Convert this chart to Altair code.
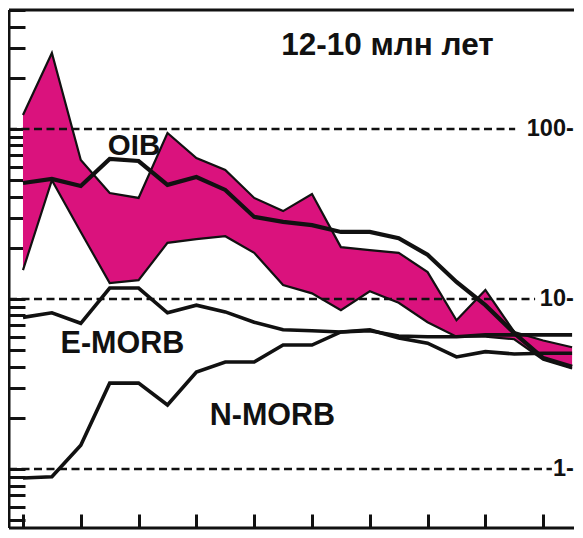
import altair as alt
import pandas as pd

# ---- data (primitive-mantle normalised spider diagram) ----
elements = ["Rb", "Ba", "Th", "Nb", "Ta", "K", "La", "Ce", "Sr", "P",
            "Nd", "Zr", "Hf", "Sm", "Eu", "Ti", "Dy", "Y", "Yb", "Lu"]
band_upper = [121, 280, 65.7, 42, 39.3, 94.7, 67.5, 57.4, 39.3, 32.9,
              41.5, 20.2, 19.4, 18.7, 14.4, 7.5, 11.3, 6.4, 5.7, 5.2]
band_lower = [14.8, 50, 24.8, 12.4, 12.9, 21.4, 22.5, 23.4, 18.7, 12.1,
              10.8, 8.6, 11.1, 9.5, 7.3, 6.0, 6.0, 5.8, 4.4, 3.9]
oib = [48.1, 50.8, 46.2, 66.6, 64.8, 46.9, 52.2, 43.8, 30.4, 28.4,
       27.2, 24.8, 24.8, 22.8, 18.2, 12.6, 9.2, 6.3, 4.5, 4.0]
e_morb = [7.8, 8.3, 7.2, 11.6, 11.6, 8.3, 9.2, 8.4, 7.3, 6.6,
          6.5, 6.4, 6.6, 5.9, 5.5, 4.56, 4.9, 4.75, 4.8, 4.8]
n_morb = [0.885, 0.9, 1.38, 3.2, 3.2, 2.38, 3.72, 4.26, 4.26, 5.36,
          5.36, 6.4, 6.5, 6.06, 6.0, 6.0, 6.15, 6.15, 6.15, 6.15]

y_ticks = [0.5, 0.6, 0.7, 0.8, 0.9,
           1, 2, 3, 4, 5, 6, 7, 8, 9,
           10, 20, 30, 40, 50, 60, 70, 80, 90,
           100, 200, 300, 400, 500]
ref_levels = [1, 10, 100]
ref_labels = ["1-", "10-", "100-"]
title_text = "12-10 млн лет"
series_labels = ["OIB", "E-MORB", "N-MORB"]

# ---- tables ----
pos = list(range(len(elements)))
band_df = pd.DataFrame({"pos": pos, "element": elements,
                        "upper": band_upper, "lower": band_lower})

MAG = "#DA127D"
INK = "#111111"
FONT = "Liberation Sans"
W, H = 565, 518

xs = alt.Scale(domain=[-0.484, 19.066], nice=False, zero=False)
ys = alt.Scale(type="log", domain=[0.45, 501], nice=False)

x_axis = alt.Axis(values=pos, orient="bottom", offset=-14, tickSize=14,
                  tickWidth=3, tickColor=INK, labels=False, domain=False,
                  grid=False, title=None)
y_axis = alt.Axis(values=y_ticks, orient="left", offset=-16, tickSize=16,
                  tickWidth=3, tickColor=INK, labels=False, domain=False,
                  grid=False, title=None)

band = alt.Chart(band_df).mark_area(color=MAG, opacity=1).encode(
    x=alt.X("pos:Q", scale=xs, axis=x_axis),
    y=alt.Y("upper:Q", scale=ys, axis=y_axis),
    y2="lower:Q",
)
band_top = alt.Chart(band_df).mark_line(color=INK, strokeWidth=2.2).encode(
    x=alt.X("pos:Q", scale=xs),
    y=alt.Y("upper:Q", scale=ys),
)
band_bot = alt.Chart(band_df).mark_line(color=INK, strokeWidth=2.2).encode(
    x=alt.X("pos:Q", scale=xs),
    y=alt.Y("lower:Q", scale=ys),
)

layers = [band, band_top, band_bot]

# dashed reference lines with labels on the right
rule_ends = {1: 18.30, 10: 17.72, 100: 17.03}
for lvl, lab in zip(ref_levels, ref_labels):
    d = pd.DataFrame({"v": [lvl], "label": [lab]})
    layers.append(
        alt.Chart(d).mark_rule(color=INK, strokeWidth=2.6, strokeDash=[8, 4.5]).encode(
            y=alt.Y("v:Q", scale=ys),
            x=alt.datum(-0.484, scale=xs),
            x2=alt.datum(rule_ends[lvl]),
        )
    )
    layers.append(
        alt.Chart(d).mark_text(font=FONT, fontWeight="bold", fontSize=23.5,
                               color=INK, align="right", baseline="middle").encode(
            y=alt.Y("v:Q", scale=ys),
            x=alt.datum(19.06, scale=xs),
            text="label:N",
        )
    )

# the three reference patterns
for vals, sw in [(oib, 4.2), (e_morb, 3.6), (n_morb, 3.6)]:
    d = pd.DataFrame({"pos": pos, "value": vals})
    layers.append(
        alt.Chart(d).mark_line(color=INK, strokeWidth=sw).encode(
            x=alt.X("pos:Q", scale=xs),
            y=alt.Y("value:Q", scale=ys),
        )
    )

# annotations
ann = [
    (series_labels[0], 3.84, 70.3, 29.5),
    (series_labels[1], 3.44, 4.81, 30.5),
    (series_labels[2], 8.63, 1.81, 30.5),
    (title_text, 12.61, 272.5, 31.5),
]
for txt, xv, yv, fs in ann:
    d = pd.DataFrame({"t": [txt]})
    layers.append(
        alt.Chart(d).mark_text(font=FONT, fontWeight="bold", fontSize=fs,
                               color=INK, align="center", baseline="alphabetic").encode(
            x=alt.datum(xv, scale=xs),
            y=alt.datum(yv, scale=ys),
            text="t:N",
        )
    )

# frame: top, left and bottom borders (no right border in the original)
frame = pd.DataFrame({"k": [0]})
layers.append(alt.Chart(frame).mark_rule(color=INK, strokeWidth=3).encode(
    x=alt.value(0), x2=alt.value(W), y=alt.value(0)))
layers.append(alt.Chart(frame).mark_rule(color=INK, strokeWidth=3).encode(
    x=alt.value(0), y=alt.value(0), y2=alt.value(H)))
layers.append(alt.Chart(frame).mark_rule(color=INK, strokeWidth=3).encode(
    x=alt.value(0), x2=alt.value(W), y=alt.value(H)))

chart = alt.layer(*layers).properties(
    width=W, height=H,
    autosize=alt.AutoSizeParams(type="none"),
    padding={"left": 1, "top": 2, "right": 1, "bottom": 2},
    background="white",
).configure_view(stroke=None)

chart.save("out.html", embed_options={"renderer": "svg", "actions": False})
